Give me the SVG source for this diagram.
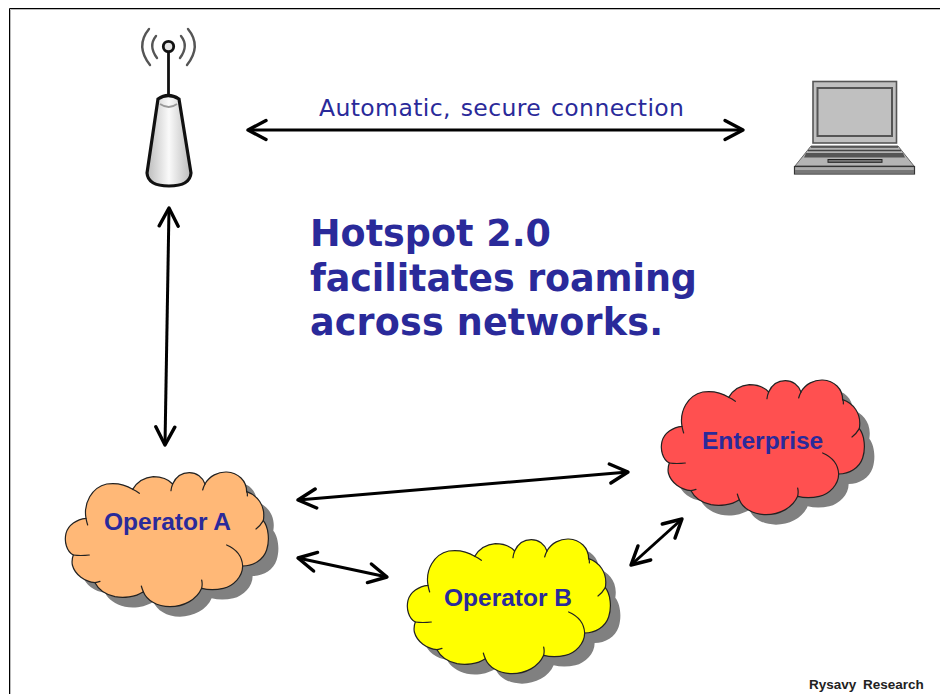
<svg xmlns="http://www.w3.org/2000/svg" width="940" height="694" viewBox="0 0 940 694">
<style>
.lbl{font-family:"Liberation Sans",Arial,sans-serif;font-weight:bold;font-size:24.5px;fill:#2a2a9a}
.title{font-family:"DejaVu Sans",Verdana,sans-serif;font-weight:bold;font-size:36.5px;fill:#2a2a9a}
.conn{fill:none;stroke:#000;stroke-width:3;marker-start:url(#a);marker-end:url(#a)}
.edge{fill:none;stroke:#222;stroke-width:3.6;stroke-linecap:round}
</style>
<defs>
<marker id="a" viewBox="-21 -12 24 24" markerUnits="userSpaceOnUse" markerWidth="24" markerHeight="24" refX="0" refY="0" orient="auto-start-reverse"><path d="M-18-9.500L0 0L-18 9.500" fill="none" stroke="#000" stroke-width="3.400" stroke-linecap="round" stroke-linejoin="round"/></marker>
<path id="outline" d="M108 175C100 130 125 82 170 72C200 68 228 75 248 88C262 65 285 52 310 50C335 50 355 58 368 72C378 50 395 38 418 38C440 38 458 52 465 72C478 48 505 35 530 36C565 38 590 62 590 95C620 105 648 135 640 182C655 200 660 240 650 270C640 300 610 318 578 318C578 350 550 378 520 385C498 390 475 390 455 385C440 420 400 440 360 440C320 440 290 420 280 395C255 412 220 415 195 410C165 403 145 388 135 368C105 365 75 345 67 315C65 303 66 295 70 285C50 275 42 245 48 220C55 195 80 178 108 175Z"/>
<path id="ticks" d="M248 88Q258 93 268 100M368 72Q364 82 363 92M465 72Q460 82 458 90M590 95Q593 100 592 108M640 182Q632 196 618 207M578 318Q576 275 530 255M455 385Q458 372 455 360M280 395Q276 386 274 378M135 368Q142 366 150 364M70 285Q92 288 118 285M108 175Q110 185 113 195"/>
<linearGradient id="cone"><stop offset="0" stop-color="#bbb"/><stop offset=".5" stop-color="#fafafa"/><stop offset="1" stop-color="#bbb"/></linearGradient>
</defs>
<rect width="940" height="694" fill="#fff"/>
<path d="M10.500 694V9.500H940" fill="none" stroke="#bbb"/>
<path d="M9.500 694V8.500H940" fill="none" stroke="#000"/>
<g id="connectors">
<path class="conn" d="M248 130H743"/>
<path class="conn" d="M169 208L165 445"/>
<path class="conn" d="M298 500L628 472"/>
<path class="conn" d="M298 558L387 577"/>
<path class="conn" d="M631 565L682 519"/>
</g>
<g id="antenna">
<g fill="none" stroke="#555" stroke-width="2.400" stroke-linecap="round"><path d="M149 29Q135 46 150 65M156 36Q148 46 157 58M181 36Q189 46 180 58M188 29Q202 46 187 65"/></g>
<path d="M168.500 52V96" stroke="#111" stroke-width="2.800"/>
<circle cx="168.500" cy="46.500" r="5.200" fill="#e4e4e4" stroke="#111" stroke-width="2.800"/>
<path d="M158 99Q168 92 179 99L191 173Q190 186 169 186Q148 186 147 173Z" fill="url(#cone)" stroke="#111" stroke-width="3.200"/>
<path d="M160 104Q169 110 177 104" fill="none" stroke="#999" stroke-width="1.800"/>
</g>
<g id="laptop">
<rect x="813" y="81.500" width="83.500" height="61.500" fill="#c0c0c0" stroke="#555" stroke-width="1.600"/>
<rect x="817.500" y="88" width="74.500" height="48" fill="#c0c0c0" stroke="#555" stroke-width="2"/>
<path d="M811 146H898L914 166H795Z" fill="#b4b4b4" stroke="#666"/>
<path d="M811 147H898M808 150.500H901" stroke="#444" stroke-width="1.500"/>
<path d="M806 153H903L905 157.500H804Z" fill="#555"/>
<rect x="828" y="159.500" width="54" height="2.800" fill="#777" stroke="#222"/>
<rect x="794.500" y="166.500" width="120" height="7.500" fill="#aaa" stroke="#333" stroke-width="1.200"/>
<rect x="795" y="170" width="119" height="3.500" fill="#777"/>
</g>
<text x="319" y="116" font-family="DejaVu Sans,Verdana,sans-serif" font-size="23.500" fill="#2a2a9a" textLength="365" word-spacing="2">Automatic, secure connection</text>
<g id="title"><text class="title" x="310" y="246" textLength="241">Hotspot 2.0</text><text class="title" x="310" y="291" textLength="387">facilitates roaming</text><text class="title" x="310" y="335" textLength="353">across networks.</text></g>
<g id="cloud-a">
<use href="#outline" transform="translate(60,470) scale(.3333)" fill="#808080"/>
<use href="#outline" transform="translate(50,460) scale(.3333)" fill="#ffb877" stroke="#222" stroke-width="3.600"/>
<use href="#ticks" class="edge" transform="translate(50,460) scale(.3333)"/>
<text class="lbl" x="104" y="530">Operator A</text>
</g>
<g id="cloud-b">
<use href="#outline" transform="translate(402,537) scale(.3333)" fill="#808080"/>
<use href="#outline" transform="translate(392,527) scale(.3333)" fill="#ffff00" stroke="#222" stroke-width="3.600"/>
<use href="#ticks" class="edge" transform="translate(392,527) scale(.3333)"/>
<text class="lbl" x="444" y="606">Operator B</text>
</g>
<g id="cloud-enterprise">
<use href="#outline" transform="translate(656,378) scale(.3333)" fill="#808080"/>
<use href="#outline" transform="translate(646,368) scale(.3333)" fill="#ff5050" stroke="#222" stroke-width="3.600"/>
<use href="#ticks" class="edge" transform="translate(646,368) scale(.3333)"/>
<text class="lbl" x="702" y="449">Enterprise</text>
</g>
<text x="809" y="689" font-family="Liberation Sans,Arial,sans-serif" font-weight="bold" font-size="13.500" fill="#222" word-spacing="3">Rysavy Research</text>
</svg>
